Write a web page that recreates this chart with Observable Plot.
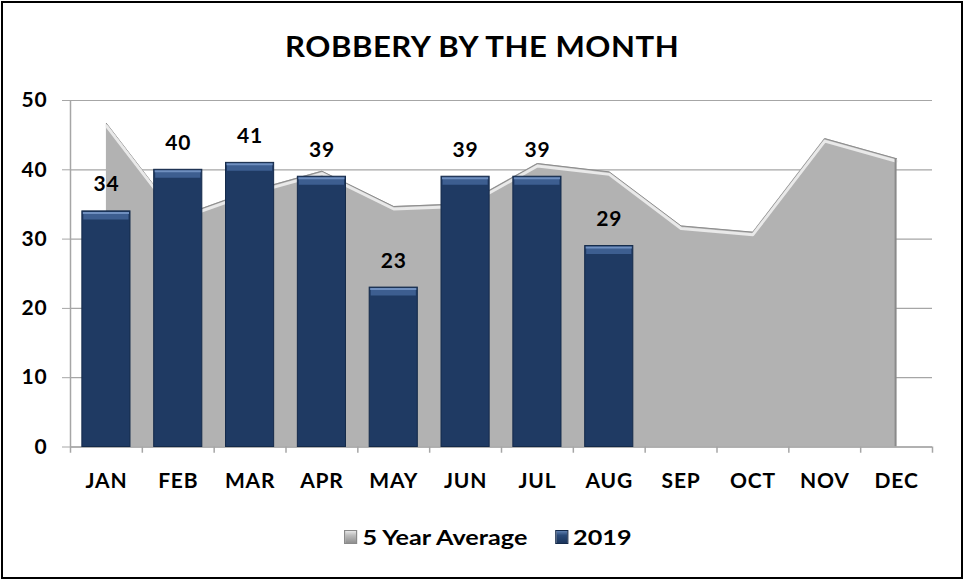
<!DOCTYPE html>
<html>
<head>
<meta charset="utf-8">
<script src="https://cdn.jsdelivr.net/npm/d3@7"></script>
<script src="https://cdn.jsdelivr.net/npm/@observablehq/plot@0.6"></script>
<style>
  html, body { margin: 0; padding: 0; background: #fff; }
  #wrap { position: relative; width: 964px; height: 582px; font-family: Lato, "Open Sans", sans-serif; }
  #border { position: absolute; left: 1px; top: 1px; width: 958px; height: 574px; border: 2px solid #000; }
  #title { position: absolute; left: 0; width: 964px; top: 29px; text-align: center; font-weight: 700; font-size: 28px; line-height: 34px; color: #000; letter-spacing: 0.5px; transform: scaleX(1.11); transform-origin: 481px 0; }
  #chart { position: absolute; left: 0; top: 0; }
  #legend { position: absolute; left: 7px; width: 964px; top: 523px; text-align: center; font-weight: 700; font-size: 21px; line-height: 26px; color: #000; transform: scaleX(1.2); transform-origin: 487px 0; }
  .item { display: inline-flex; align-items: center; margin: 0 9px; }
  .sw { display: inline-block; width: 11px; height: 14px; margin-right: 4px; box-sizing: border-box; }
  .sw.avg { background: linear-gradient(180deg, #e6e6e6 0%, #bdbdbd 35%, #8f8f8f 100%); border: 1px solid #8a8a8a; }
  .sw.y19 { background: linear-gradient(180deg, #5f80b0 0%, #2a4a78 35%, #1b355c 100%); border: 1px solid #142a4a; }
</style>
</head>
<body>
<div id="wrap">
  <div id="chart"></div>
  <div id="title">ROBBERY BY THE MONTH</div>
  <div id="legend">
    <span class="item"><span class="sw avg"></span>5 Year Average</span>
    <span class="item"><span class="sw y19"></span>2019</span>
  </div>
  <div id="border"></div>
</div>
<script>
// ---- data ----
const months = ["JAN","FEB","MAR","APR","MAY","JUN","JUL","AUG","SEP","OCT","NOV","DEC"];
const avg5 = [46.7, 33.2, 36.9, 39.8, 34.7, 35.1, 40.9, 39.7, 31.9, 31.0, 44.5, 41.6];
const months2019 = ["JAN","FEB","MAR","APR","MAY","JUN","JUL","AUG"];
const values2019 = [34, 40, 41, 39, 23, 39, 39, 29];
const yTicks = [0, 10, 20, 30, 40, 50];

const avgData = months.map((m, i) => ({month: m, value: avg5[i]}));
const barData = months2019.map((m, i) => ({month: m, value: values2019[i]}));

const W = 964, H = 500;
const mL = 70, mR = 32, mT = 100, mB = 53.5;
const step = (W - mL - mR) / months.length;
const grey = "#a6a6a6";

const chart = Plot.plot({
  width: W,
  height: H,
  marginLeft: mL,
  marginRight: mR,
  marginTop: mT,
  marginBottom: mB,
  style: {fontFamily: "Lato, 'Open Sans', sans-serif", background: "transparent"},
  x: {domain: months, type: "band", paddingInner: 0.33, paddingOuter: 0.165, round: false, label: null},
  y: {domain: [0, 50], label: null},
  marks: [
    Plot.gridY(yTicks, {stroke: grey, strokeOpacity: 1, strokeWidth: 1.2}),
    // 5 year average area
    Plot.areaY(avgData, {x: "month", y: "value", fill: "#b2b2b2"}),
    Plot.lineY(avgData, {x: "month", y: "value", stroke: "#8d8d8d", strokeWidth: 1}),
    Plot.lineY(avgData, {x: "month", y: "value", stroke: "#f2f2f2", strokeOpacity: 0.85, strokeWidth: 3, dy: 2.5}),
    Plot.ruleX(avgData.filter(d => d.month === "DEC"), {x: "month", y1: 0, y2: "value", stroke: "#8a8a8a", strokeWidth: 2, dx: -1}),
    // axis lines and ticks
    Plot.ruleY([0], {stroke: grey, strokeWidth: 1.5}),
    Plot.ruleX(["JAN"], {x: d => d, dx: -step / 2, y1: -0.9, y2: 50, stroke: grey, strokeWidth: 1.5}),
    Plot.ruleX(months.slice(1), {x: d => d, dx: -step / 2, y1: -0.9, y2: 0, stroke: grey, strokeWidth: 1.5}),
    Plot.ruleX(["DEC"], {x: d => d, dx: step / 2, y1: -0.9, y2: 0, stroke: grey, strokeWidth: 1.5}),
    // 2019 bars
    Plot.barY(barData, {x: "month", y: "value", fill: "#1f3a63", stroke: "#142a4a", strokeWidth: 1}),
    Plot.tickY(barData, {x: "month", y: "value", stroke: "#3d5e90", strokeWidth: 7, dy: 4.5, insetLeft: 1.5, insetRight: 1.5}),
    Plot.tickY(barData, {x: "month", y: "value", stroke: "#6f8fbf", strokeWidth: 2, dy: 1.5, insetLeft: 1, insetRight: 1}),
    Plot.text(barData, {x: "month", y: "value", text: d => String(d.value), dy: -20, lineAnchor: "bottom", fontSize: 21, fontWeight: 700, fill: "#000"}),
    // axes
    Plot.axisY({ticks: yTicks, tickSize: 8, tickPadding: 15, stroke: grey, fontSize: 21, fontWeight: 700, color: "#000", label: null}),
    Plot.axisX({tickSize: 0, tickPadding: 26, fontSize: 21, fontWeight: 700, label: null})
  ]
});

const svg = d3.select(chart);
svg.selectAll("text").style("letter-spacing", "0.8px");
svg.selectAll("[aria-label='y-axis tick label'] text, [aria-label='x-axis tick label'] text").attr("fill", "#000");
document.getElementById("chart").appendChild(chart);
</script>
</body>
</html>
